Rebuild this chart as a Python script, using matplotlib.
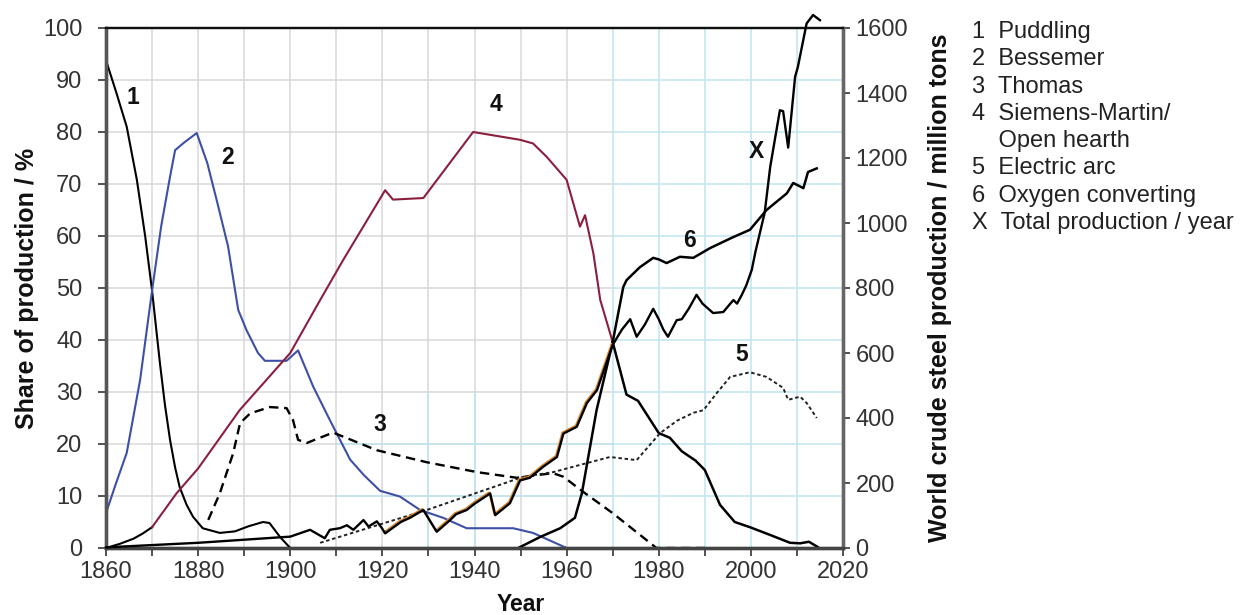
import matplotlib
matplotlib.use("Agg")
import matplotlib.pyplot as plt
import matplotlib.transforms as mtransforms
import numpy as np

plt.rcParams['font.family'] = ['Liberation Sans', 'DejaVu Sans']

# ---------------- data ----------------
# 1 Puddling (share %)
puddling_year = [1860, 1862.3, 1864.5, 1866.7, 1868.5, 1870, 1871.7, 1872.8, 1873.9, 1875, 1876, 1877.5, 1878.9, 1881, 1884.7, 1888,
                 1891, 1894.1, 1895.5, 1897.8, 1900]
puddling_share = [93.8, 87.4, 81, 70.8, 60, 49.5, 35.6, 27.5, 20.8, 15.5, 11.7, 8.3, 6, 3.8, 2.9, 3.2,
                  4.2, 5, 4.8, 2.1, 0]

# 2 Bessemer (share %)
bessemer_year = [1860, 1862, 1864.5, 1867.4, 1870, 1872, 1873.9, 1875, 1877, 1879.7, 1882, 1884, 1886.5, 1888.7, 1890.5, 1893, 1894.5, 1899.2, 1901.7,
                 1905, 1908.6, 1913, 1916, 1919.5, 1923.8, 1928.2, 1933.2, 1938.3, 1948.4, 1952.7, 1960]
bessemer_share = [6.7, 12, 18.3, 32.3, 49.5, 62, 71.4, 76.5, 78, 79.8, 74, 67, 58, 45.8, 41.9, 37.5, 36, 36, 38,
                  31, 24.6, 17, 14, 11, 9.9, 7.3, 5.8, 3.8, 3.8, 2.9, 0]

# 3 Thomas (share %)
thomas_year = [1882.2, 1884.7, 1887.6, 1889.1, 1891.3, 1895.6, 1899.2, 1900.6, 1901.7, 1903.6, 1909.3, 1918.8, 1929.6, 1940.5, 1949.2, 1957, 1959.3,
               1963.6, 1970, 1979.5, 1990]
thomas_share = [5.4, 10.5, 18.2, 24, 25.9, 27.1, 26.9, 24.6, 20.8, 20.2, 22.2, 18.8, 16.5, 14.6, 13.5, 14.4, 13.7,
                10.8, 6.7, 0, 0]

# 4 Siemens-Martin / Open hearth (share %)
openhearth_year = [1860, 1863, 1866, 1868, 1870, 1875.3, 1880, 1889, 1900, 1906.5, 1911.5, 1920.6, 1922.3, 1928.9, 1939.7, 1949.9, 1952.7,
                   1955.7, 1960, 1962.9, 1964, 1965.8, 1967.3, 1970, 1973, 1975.5, 1980, 1982.4, 1985, 1988, 1990, 1993.3, 1996.5,
                   1999.8, 2004.5, 2008.5, 2010.7, 2012.6, 2014.5]
openhearth_share = [0, 0.8, 1.8, 2.8, 4, 10.5, 15.3, 26.5, 37.5, 47.7, 55.4, 68.8, 67, 67.3, 80, 78.5, 77.8,
                    75.2, 70.8, 61.8, 64, 56.7, 47.7, 39.6, 29.5, 28.3, 22.1, 21.2, 18.6, 16.8, 15, 8.3, 5,
                    4, 2.4, 1.0, 0.9, 1.2, 0.2]

# 5 Electric arc (share %)
electric_year = [1906.5, 1929.6, 1950.6, 1957.1, 1963, 1969.4, 1975.2, 1980.3, 1984, 1987.5, 1989.7, 1992.6, 1995.5, 1999.8, 2003.4,
                 2007, 2008.1, 2010.7, 2012.1, 2014.3]
electric_share = [1, 7.3, 13.7, 14.6, 16, 17.5, 16.9, 22.1, 24.5, 26, 26.5, 29.8, 32.9, 33.8, 32.9,
                  30.8, 28.5, 29.1, 27.9, 25]

# 6 Oxygen converting (share %)
oxygen_year = [1949.5, 1954.2, 1958.6, 1961.8, 1963.3, 1966.5, 1970, 1972.3, 1973, 1975.9, 1978.8, 1980, 1981.7, 1984.6, 1987.5, 1991.2,
               1996.2, 1999.8, 2003.4, 2007.8, 2009.2, 2011.4, 2012.4, 2014.3]
oxygen_share = [0, 2.1, 3.8, 5.8, 10.5, 26.5, 39.6, 50.2, 51.5, 54, 55.8, 55.5, 54.8, 56, 55.8, 57.7,
                59.8, 61.2, 65, 68.2, 70.2, 69.2, 72.3, 73]

# X Total production / year (million tons)
total_year = [1860, 1880, 1900, 1904.3, 1907.5, 1908.6, 1910.8, 1912.3, 1913.7, 1915.9, 1917, 1918.8, 1919.9, 1920.6, 1924, 1926,
              1928.9, 1931.8, 1934.7, 1936, 1938.3, 1940, 1943.4, 1944.5, 1947.7, 1949.9, 1952, 1954.9, 1957.9, 1959.3, 1962.2,
              1964.4, 1966.6, 1969, 1970, 1972, 1973.8, 1975.2, 1977, 1978.8, 1980, 1981, 1982, 1983.9, 1985, 1986.5, 1988.2,
              1989.5, 1991.8, 1994, 1996.2, 1997, 1998, 1999, 2000.2, 2001, 2003, 2004.2, 2006.3, 2007, 2008.1, 2009.6, 2010.2,
              2012.1, 2013.5, 2015]
total_mt = [2, 16, 35, 56, 30, 56, 61, 70, 56, 86, 66, 82, 61, 45, 80, 93,
            117, 50, 86, 104, 117, 136, 168, 101, 138, 208, 216, 250, 280, 352, 373,
            446, 486, 584, 625, 672, 704, 650, 688, 736, 704, 672, 650, 701, 704, 736, 779,
            752, 723, 726, 763, 752, 778, 808, 856, 912, 1032, 1173, 1347, 1344, 1232, 1450, 1480,
            1614, 1640, 1624]

legend_lines = ["1  Puddling", "2  Bessemer", "3  Thomas", "4  Siemens-Martin/",
                "    Open hearth", "5  Electric arc", "6  Oxygen converting", "X  Total production / year"]

x_ticks = list(range(1860, 2021, 20))
left_ticks = list(range(0, 101, 10))
right_ticks = list(range(0, 1601, 200))

# ---------------- figure ----------------
W, H = 1245, 615
fig = plt.figure(figsize=(W / 100, H / 100), dpi=100)
ax = fig.add_axes([106 / W, 1 - 548 / H, 737 / W, 520 / H])
ax.set_xlim(1860, 2020)
ax.set_ylim(0, 100)

gray = '#d9d9d9'
blue = '#bfe4f2'
# grid
for yr in range(1870, 2020, 10):
    ax.axvline(yr, color=(blue if yr >= 1970 else gray), lw=1.1, zorder=0)
for v in range(10, 100, 10):
    ax.hlines(v, 1860, 1970, color=gray, lw=1.1, zorder=0)
    ax.hlines(v, 1970, 2020, color=blue, lw=1.1, zorder=0)
for v in (10, 20):
    ax.hlines(v, 1910, 1970, color=blue, lw=1.1, zorder=0.1)
for yr in (1930, 1940):
    ax.vlines(yr, 0, 30, color=blue, lw=1.1, zorder=0.1)

lw = 1.5
c_blue = '#3d4fa6'
c_red = '#8a1f3e'

ax.plot(puddling_year, puddling_share, color='black', lw=lw, zorder=3)
ax.plot(bessemer_year, bessemer_share, color=c_blue, lw=lw, zorder=3)
ax.plot(thomas_year, thomas_share, color='black', lw=1.7, dashes=(4, 2.4), zorder=3)

oy = np.array(openhearth_year)
osh = np.array(openhearth_share)
m1 = oy <= 1870
m2 = (oy >= 1870) & (oy <= 1970)
m3 = oy >= 1970
ax.plot(oy[m1], osh[m1], color='black', lw=lw, zorder=3)
ax.plot(oy[m2], osh[m2], color=c_red, lw=lw, zorder=3)
ax.plot(oy[m3], osh[m3], color='black', lw=1.8, zorder=3)

ax.plot(electric_year, electric_share, color='#222222', lw=1.4, dashes=(1.8, 1.4), zorder=3)
ax.plot(oxygen_year, oxygen_share, color='black', lw=1.8, zorder=3)

twin = ax.twinx()
twin.set_ylim(0, 1600)
ty = np.array(total_year)
tm = np.array(total_mt)
mo = (ty >= 1920) & (ty <= 1970)
off = mtransforms.offset_copy(twin.transData, fig=fig, x=-1.2, y=1.2, units='dots')
twin.plot(ty[mo], tm[mo], color='#d9862a', lw=1.2, transform=off, zorder=2)
twin.plot(ty, tm, color='black', lw=1.7, clip_on=False, zorder=3)

# curve labels
lab = dict(fontsize=16.5, fontweight='bold', color='#111111', ha='center', va='center', zorder=5)
ax.text(1865.9, 86.7, '1', **lab)
ax.text(1886.3, 75.0, '2', **lab)
ax.text(1919.5, 23.7, '3', **lab)
ax.text(1944.7, 85.2, '4', **lab)
ax.text(1998.0, 37.3, '5', **lab)
ax.text(1986.6, 59.2, '6', **lab)
ax.text(2001.1, 76.2, 'X', **lab)

# ticks & spines
tick_col = '#333333'
ax.set_xticks(x_ticks)
ax.set_xticks(list(range(1870, 2020, 20)), minor=True)
ax.set_yticks(left_ticks)
ax.tick_params(axis='x', which='both', direction='out', length=6, width=1.3, colors='#444444',
               labelsize=17, labelcolor=tick_col, pad=3)
ax.tick_params(axis='y', direction='out', length=6, width=1.3, colors='#444444',
               labelsize=17, labelcolor=tick_col, pad=11)
twin.set_yticks(right_ticks)
twin.tick_params(axis='y', direction='out', length=5, width=1.3, colors='#444444',
                 labelsize=17, labelcolor=tick_col, pad=4)

for a in (ax, twin):
    a.spines['left'].set_color('#555555')
    a.spines['left'].set_linewidth(2.4)
    a.spines['bottom'].set_color('#444444')
    a.spines['bottom'].set_linewidth(2.4)
    a.spines['top'].set_color('#111111')
    a.spines['top'].set_linewidth(1.6)
    a.spines['right'].set_color('#666666')
    a.spines['right'].set_linewidth(2.4)

ax.set_ylabel('Share of production / %', fontsize=18, fontweight='bold', color='#111111', labelpad=3)
twin.set_ylabel('World crude steel production / million tons', fontsize=18, fontweight='bold',
                color='#111111', labelpad=14)
ax.set_xlabel('Year', fontsize=16.5, fontweight='bold', color='#111111')
ax.xaxis.set_label_coords(0.563, -0.086)

# legend text
for i, t in enumerate(legend_lines):
    fig.text(972 / W, 1 - (32 + i * 27.3) / H, t, fontsize=17, color='#222222', ha='left', va='center')

fig.savefig('out.png', dpi=100, facecolor='white')
